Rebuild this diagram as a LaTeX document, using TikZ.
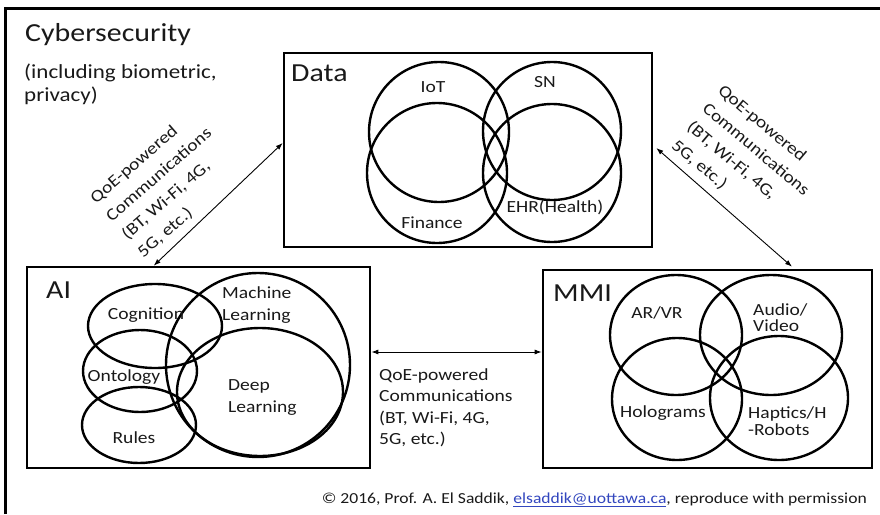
\documentclass[tikz,border=0pt]{standalone}
\usepackage{fontspec}
\setmainfont[FakeStretch=1.15]{Carlito}
\usetikzlibrary{arrows.meta,calc}
\definecolor{txt}{RGB}{25,25,25}
\definecolor{mailblue}{RGB}{50,70,190}
\tikzset{
  box/.style={draw, line width=2.6pt, inner sep=0pt, rectangle},
  venn/.style={line width=2.4pt},
  lbl/.style={font=\fontsize{17}{21.5}\selectfont, text=txt, inner sep=0pt, align=left},
  ttl/.style={font=\fontsize{26}{30}\selectfont, text=txt, inner sep=0pt, anchor=west},
  comm/.style={font=\fontsize{17}{21.5}\selectfont, text=txt, inner sep=0pt, align=left},
  rcomm/.style={font=\fontsize{17}{24}\selectfont, text=txt, inner sep=0pt, align=left},
  link/.style={line width=0.9pt, {Latex[length=7pt,width=5pt]}-{Latex[length=7pt,width=5pt]}}
}
\begin{document}
\begin{tikzpicture}[x=1pt,y=-1pt]
\useasboundingbox (0,0) rectangle (880,514);
% outer frame (top and left edges)
\draw[line width=3pt] (5,514) -- (5,8) -- (880,8);
\node[ttl] (cyber) at (25,35) {Cybersecurity};
\node[lbl, anchor=west, font=\fontsize{20}{23}\selectfont] (cybersub) at (24,84) {(including biometric,\\privacy)};

% boxes
\node[box, minimum width=368pt, minimum height=194pt] (data) at (468,150) {};
\node[box, minimum width=343pt, minimum height=201pt] (ai) at (198.5,367.5) {};
\node[box, minimum width=329pt, minimum height=198pt] (mmi) at (707.5,369) {};

\node[ttl] (datat) at (291,73) {Data};
\node[ttl] (ait) at (46,290) {AI};
\node[ttl] (mmit) at (553,293) {MMI};

% Data Venn
\draw[venn] (439,132) circle[radius=70pt];
\draw[venn] (437,173) circle[radius=70pt];
\draw[venn] (552,131) circle[radius=69pt];
\draw[venn] (552,173) circle[radius=69pt];
\node[lbl] (iot) at (433,87) {IoT};
\node[lbl] (sn) at (545,82) {SN};
\node[lbl] (fin) at (432,223) {Finance};
\node[lbl] (ehr) at (555,207) {EHR(Health)};

% AI Venn
\draw[venn] (155,326) ellipse[x radius=67pt, y radius=42pt];
\draw[venn] (140,371) ellipse[x radius=57pt, y radius=41pt];
\draw[venn] (139,425) ellipse[x radius=57pt, y radius=38pt];
\draw[venn] (258,365) ellipse[x radius=92pt, y radius=92pt];
\draw[venn] (260,392) ellipse[x radius=83pt, y radius=64pt];
\node[lbl] (cog) at (146,315) {Cognition};
\node[lbl, anchor=west] (ml) at (222,305) {Machine\\Learning};
\node[lbl] (onto) at (124,377) {Ontology};
\node[lbl, anchor=west] (dl) at (228,397.5) {Deep\\Learning};
\node[lbl] (rules) at (134,438) {Rules};

% MMI Venn
\draw[venn] (676,335) ellipse[x radius=66pt, y radius=60pt];
\draw[venn] (771,335) ellipse[x radius=71pt, y radius=60pt];
\draw[venn] (677,399) ellipse[x radius=65pt, y radius=61pt];
\draw[venn] (779,398) ellipse[x radius=69pt, y radius=62pt];
\node[lbl] (arvr) at (657,313) {AR/VR};
\node[lbl, anchor=west, font=\fontsize{17}{16}\selectfont] (av) at (753,318) {Audio/\\Video};
\node[lbl] (holo) at (663,413) {Holograms};
\node[lbl, anchor=west, font=\fontsize{17}{17}\selectfont] (hap) at (748,421) {Haptics/H\\-Robots};

% connectors
\draw[link] ($(ai.north west)+(128,0)$) -- ($(data.west)+(0,-7)$);
\draw[link] ($(data.east)+(3,-2)$) -- ($(mmi.north)+(84.5,-2)$);
\draw[link] (ai.east |- 0,352) -- (mmi.west |- 0,352);

\node[rcomm, rotate=41] (c1) at (167,184) {QoE-powered\\Communications\\(BT, Wi-Fi, 4G,\\5G, etc.)};
\node[rcomm, rotate=-40] (c2) at (748,159) {QoE-powered\\Communications\\(BT, Wi-Fi, 4G,\\5G, etc.)};
\node[comm, anchor=west] (c3) at (379,408) {QoE-powered\\Communications\\(BT, Wi-Fi, 4G,\\5G, etc.)};

\node[lbl, anchor=base east, font=\fontsize{15.3}{17}\selectfont] (copy) at (867,503) {© 2016, Prof. A. El Saddik, {\color{mailblue}\underline{elsaddik@uottawa.ca}}, reproduce with permission};
\end{tikzpicture}
\end{document}
